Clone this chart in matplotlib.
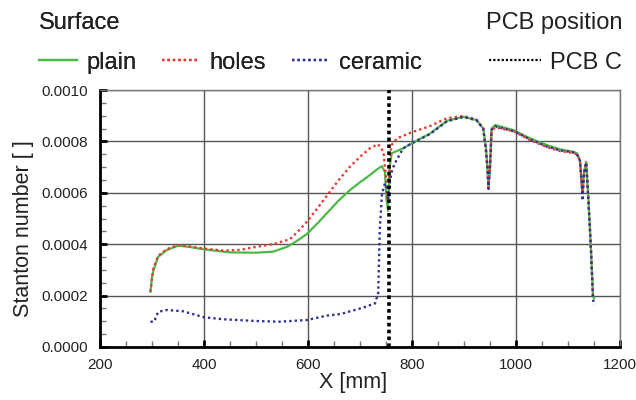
import numpy as np
import matplotlib
matplotlib.use('Agg')
import matplotlib.pyplot as plt
import matplotlib.transforms as mtransforms
from matplotlib.ticker import MultipleLocator, FormatStrFormatter

plt.rcParams['font.family'] = ['Liberation Sans', 'DejaVu Sans']

# Stanton number along X [mm] for each surface type
x_plain = [297, 300, 303, 312, 328, 350, 370, 400, 450, 500, 533, 560, 578, 598, 620, 642,
           660, 681, 700, 719, 732, 742, 748, 751, 754, 757, 761, 783, 799, 835, 867, 899,
           924, 937, 942, 945, 947, 950, 953, 960, 995, 1027, 1059, 1085, 1110, 1117, 1123,
           1126, 1128, 1131, 1135, 1139, 1144, 1148, 1150]
st_plain = [0.000215, 0.00027, 0.0003, 0.000351, 0.000377, 0.000394, 0.00039, 0.00038,
            0.000368, 0.000367, 0.000371, 0.00039, 0.000412, 0.00044, 0.000485, 0.000533,
            0.000572, 0.000611, 0.000641, 0.000669, 0.00069, 0.000704, 0.00068, 0.000572,
            0.00053, 0.0007, 0.000754, 0.000773, 0.000792, 0.000831, 0.00088, 0.000896,
            0.000883, 0.00085, 0.00078, 0.0007, 0.000624, 0.0007, 0.00085, 0.000864,
            0.000844, 0.000812, 0.000786, 0.000769, 0.00076, 0.000754, 0.000728, 0.00065,
            0.000598, 0.00068, 0.000721, 0.000585, 0.00039, 0.000202, 0.00019]

x_holes = [297, 300, 303, 312, 328, 350, 370, 400, 437, 470, 501, 533, 565, 580, 598, 620,
           642, 660, 681, 700, 719, 735, 745, 749, 752, 755, 758, 761, 771, 799, 835, 867,
           899, 924, 937, 942, 945, 947, 950, 953, 960, 995, 1027, 1059, 1085, 1110, 1117,
           1123, 1126, 1128, 1131, 1135, 1139, 1144, 1148, 1150]
st_holes = [0.000215, 0.00027, 0.00031, 0.000355, 0.00038, 0.000397, 0.000392, 0.000383,
            0.000375, 0.000378, 0.00039, 0.0004, 0.000419, 0.000448, 0.000488, 0.000545,
            0.000604, 0.000652, 0.000702, 0.00074, 0.000773, 0.000789, 0.00076, 0.00068,
            0.00058, 0.00059, 0.00075, 0.000786, 0.000812, 0.000835, 0.00086, 0.00089,
            0.000899, 0.000885, 0.00085, 0.00077, 0.0007, 0.00062, 0.0007, 0.00084,
            0.000855, 0.00084, 0.000805, 0.000778, 0.000762, 0.000755, 0.00075, 0.000725,
            0.00065, 0.000595, 0.00068, 0.000718, 0.00058, 0.00039, 0.0002, 0.00019]

x_ceramic = [297, 304, 312, 328, 360, 399, 437, 501, 546, 598, 636, 662, 706, 729, 735, 738,
             742, 745, 748, 751, 754, 758, 762, 767, 783, 799, 835, 867, 899, 924, 937, 942,
             945, 947, 950, 953, 960, 995, 1027, 1059, 1085, 1110, 1117, 1123, 1126, 1128,
             1131, 1135, 1139, 1144, 1148, 1150]
st_ceramic = [0.0000985, 0.0000985, 0.000137, 0.000144, 0.000139, 0.000116, 0.000108,
              0.000101, 0.0000985, 0.000105, 0.000122, 0.000128, 0.000153, 0.00017,
              0.000209, 0.000455, 0.00059, 0.000617, 0.000637, 0.00062, 0.00058, 0.00065,
              0.00069, 0.000715, 0.000773, 0.000792, 0.000829, 0.000878, 0.000895, 0.000882,
              0.00085, 0.00077, 0.0007, 0.000615, 0.0007, 0.000845, 0.000858, 0.00084,
              0.000808, 0.00078, 0.000765, 0.000757, 0.00075, 0.000725, 0.00064, 0.00057,
              0.00068, 0.000718, 0.00058, 0.00038, 0.00019, 0.000163]

pcb_c = 755

fig = plt.figure(figsize=(6.36, 4.0), dpi=100)
ax = fig.add_axes([100/636, 53/400, 520/636, 257/400])

l1, = ax.plot(x_plain, st_plain, color='#4cb848', lw=1.6, label='plain', zorder=3)
l2, = ax.plot(x_holes, st_holes, color='#e8382f', lw=1.7, ls=(0, (1, 1.3)), label='holes', zorder=4)
l3, = ax.plot(x_ceramic, st_ceramic, color='#2e3192', lw=1.7, ls=(0, (1, 1.3)), label='ceramic', zorder=5)
l4 = ax.axvline(pcb_c, color='black', lw=2.6, ls=(0, (1, 0.9)), label='PCB C', zorder=6)

ax.set_xlim(200, 1200)
ax.set_ylim(0, 0.001)
ax.xaxis.set_major_locator(MultipleLocator(200))
ax.xaxis.set_minor_locator(MultipleLocator(50))
ax.yaxis.set_major_locator(MultipleLocator(0.0002))
ax.yaxis.set_minor_locator(MultipleLocator(0.00005))
ax.yaxis.set_major_formatter(FormatStrFormatter('%.4f'))
ax.grid(True, which='major', color='#555555', lw=1.0)

for s in ['top', 'right']:
    ax.spines[s].set_color('#777777')
    ax.spines[s].set_linewidth(1.0)
for s in ['left', 'bottom']:
    ax.spines[s].set_color('black')
    ax.spines[s].set_linewidth(2.0)

ax.tick_params(which='major', direction='in', length=5, width=2, labelsize=11,
               labelcolor='#222222', pad=8)
ax.tick_params(which='minor', direction='in', length=4, width=1, color='#777777')
ax.tick_params(axis='y', which='major', pad=9)

ax.set_xlabel('X [mm]', fontsize=15.5, color='#222222')
ax.set_ylabel('Stanton number [ ]', fontsize=15.5, color='#222222')
ax.xaxis.set_label_coords(0.486, -0.14)
ax.yaxis.set_label_coords(-0.148, 0.46)
ax.xaxis.label.set_va('center')
ax.yaxis.label.set_va('center')

# nudge the last x tick label so it stays inside the figure
fig.canvas.draw()
last = ax.get_xticklabels()[-1]
last.set_transform(last.get_transform() + mtransforms.ScaledTranslation(-4/100, 0, fig.dpi_scale_trans))

leg1 = fig.legend(handles=[l1, l2, l3], title='Surface', ncol=3, frameon=False,
                  loc='upper left', bbox_to_anchor=(39/636, 1 - 12/400),
                  fontsize=17, title_fontsize=17, alignment='left',
                  handlelength=1.6, handletextpad=0.4, columnspacing=1.1,
                  labelspacing=0.75, borderpad=0, borderaxespad=0, labelcolor='#222222')
leg2 = fig.legend(handles=[l4], title='PCB position', frameon=False,
                  loc='upper right', bbox_to_anchor=(622/636, 1 - 12/400),
                  fontsize=17, title_fontsize=17, alignment='right',
                  handlelength=2.2, handletextpad=0.4,
                  labelspacing=0.75, borderpad=0, borderaxespad=0, labelcolor='#222222')
for lg in (leg1, leg2):
    lg.get_title().set_color('#222222')
for h in leg2.legend_handles:
    h.set_linewidth(1.6)
fig.add_artist(leg1)

fig.savefig('out.png', dpi=100)
